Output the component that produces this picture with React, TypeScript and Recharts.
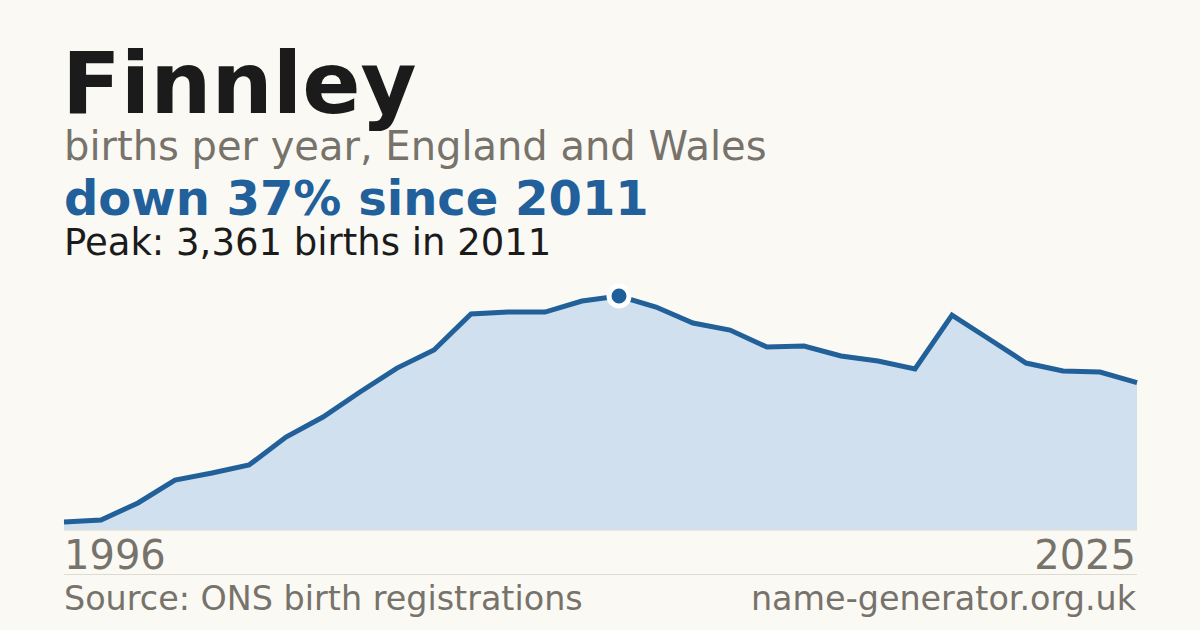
import React from 'react';
import { AreaChart, Area, XAxis, YAxis, ReferenceDot } from 'recharts';

const years = [
  1996, 1997, 1998, 1999, 2000, 2001, 2002, 2003, 2004, 2005,
  2006, 2007, 2008, 2009, 2010, 2011, 2012, 2013, 2014, 2015,
  2016, 2017, 2018, 2019, 2020, 2021, 2022, 2023, 2024, 2025,
];
const births = [
  115, 144, 388, 718, 819, 933, 1335, 1623, 1982, 2326,
  2585, 3102, 3130, 3130, 3289, 3361, 3202, 2973, 2872, 2628,
  2642, 2499, 2427, 2312, 3087, 2743, 2398, 2283, 2269, 2117,
];
const edgeTicks = [1996, 2025];
const peakYear = 2011;
const peakValue = 3361;

const data = years.map((year, i) => ({ year, births: births[i] }));

const FONT = '"DejaVu Sans", Verdana, sans-serif';
const GREY = '#77736b';
const BLUE = '#22609a';

function YearTick(props: any) {
  const { x, y, payload } = props;
  const first = payload.value === edgeTicks[0];
  return (
    <text
      x={first ? x : x - 1}
      y={y + 31}
      textAnchor={first ? 'start' : 'end'}
      fontFamily={FONT}
      fontSize={40}
      fill={GREY}
    >
      {payload.value}
    </text>
  );
}

export default function App() {
  return (
    <div style={{ position: 'absolute', left: 0, top: 0, width: 1200, height: 630, background: '#faf9f4', overflow: 'hidden' }}>
      <svg width={1200} height={630} style={{ position: 'absolute', left: 0, top: 0 }}>
        <text x={62} y={113} fontFamily={FONT} fontWeight="bold" fontSize={86} fill="#1b1b1b">Finnley</text>
        <text x={64} y={160} fontFamily={FONT} fontSize={40} fill={GREY}>births per year, England and Wales</text>
        <text x={64} y={215} fontFamily={FONT} fontWeight="bold" fontSize={48} fill="#21609a">down 37% since 2011</text>
        <text x={64} y={255} fontFamily={FONT} fontSize={37} fill="#1b1b1b">Peak: 3,361 births in 2011</text>
        <line x1={64} x2={1137} y1={574.5} y2={574.5} stroke="#dedad2" strokeWidth={1} />
        <text x={64} y={610} fontFamily={FONT} fontSize={33.4} fill={GREY}>Source: ONS birth registrations</text>
        <text x={1136} y={610} textAnchor="end" fontFamily={FONT} fontSize={33.4} fill={GREY}>name-generator.org.uk</text>
      </svg>
      <div style={{ position: 'absolute', left: 0, top: 0 }}>
        <AreaChart width={1200} height={630} data={data} margin={{ top: 296, right: 63, bottom: 0, left: 64 }}>
          <XAxis
            dataKey="year"
            type="number"
            domain={[1996, 2025]}
            ticks={edgeTicks}
            tick={<YearTick />}
            tickLine={false}
            axisLine={{ stroke: '#dedad2', strokeWidth: 1 }}
            height={100}
            interval={0}
          />
          <YAxis hide domain={[0, peakValue]} />
          <Area
            type="linear"
            dataKey="births"
            stroke={BLUE}
            strokeWidth={5}
            fill="#d0e0ef"
            fillOpacity={1}
            dot={false}
            activeDot={false}
            isAnimationActive={false}
          />
          <ReferenceDot x={peakYear} y={peakValue} r={10} fill="#1f5f99" stroke="#ffffff" strokeWidth={5} />
        </AreaChart>
      </div>
    </div>
  );
}
